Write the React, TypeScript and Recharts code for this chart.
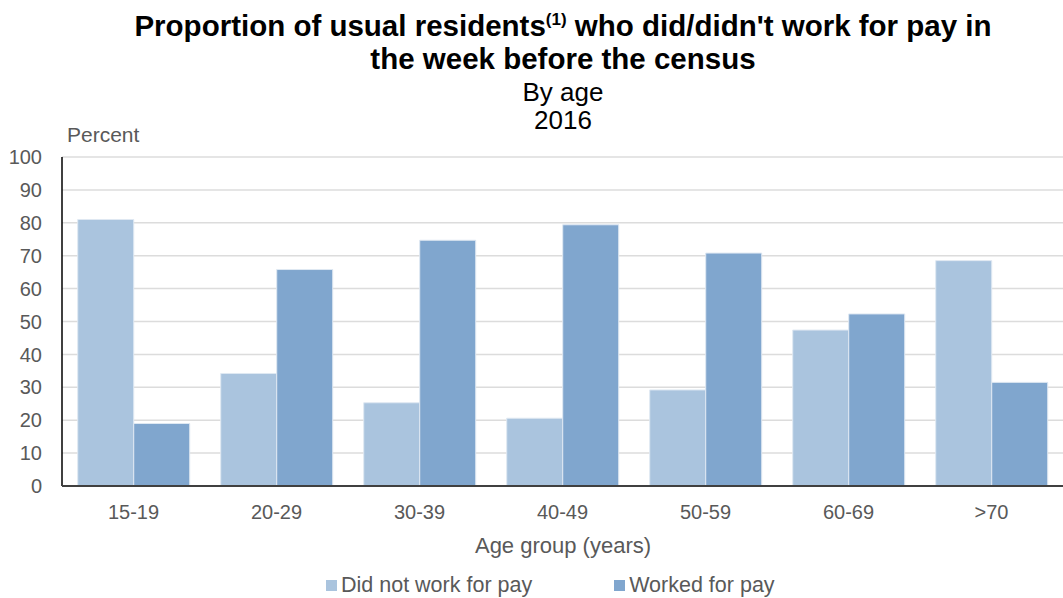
import React from "react";
import { BarChart, Bar, XAxis, YAxis, CartesianGrid } from "recharts";

const ageGroups = ["15-19", "20-29", "30-39", "40-49", "50-59", "60-69", ">70"];
const didNotWork = [81, 34.2, 25.3, 20.6, 29.2, 47.4, 68.5];
const worked = [19, 65.8, 74.7, 79.4, 70.8, 52.3, 31.5];
const yTicks = [0, 10, 20, 30, 40, 50, 60, 70, 80, 90, 100];

const LIGHT = "#aac4de";
const DARK = "#80a6ce";
const FONT = "'Liberation Sans', Arial, sans-serif";
const GREY = "#595959";

const data = ageGroups.map((g, i) => ({
  group: g,
  didNotWork: didNotWork[i],
  worked: worked[i],
}));

export default function App() {
  return (
    <div style={{ position: "relative", width: 1063, height: 598, background: "#fff", fontFamily: FONT, overflow: "hidden" }}>
      <style>{"body{margin:0}"}</style>
      <div style={{ position: "absolute", left: 63, width: 1000, top: 9, textAlign: "center", color: "#000", whiteSpace: "nowrap" }}>
        <div style={{ fontSize: 29.5, fontWeight: "bold", lineHeight: "33px" }}>
          Proportion of usual residents<sup style={{ fontSize: 17, lineHeight: 0 }}>(1)</sup> who did/didn't work for pay in
          <br />
          the week before the census
        </div>
        <div style={{ fontSize: 26, lineHeight: "28px", marginTop: 3 }}>By age</div>
        <div style={{ fontSize: 26, lineHeight: "28px" }}>2016</div>
      </div>
      <div style={{ position: "absolute", left: 67, top: 123, fontSize: 21, color: GREY }}>Percent</div>

      <BarChart
        width={1063}
        height={598}
        data={data}
        margin={{ top: 157, right: 0, bottom: 82, left: 0 }}
        barCategoryGap="11%"
        barGap={0}
      >
        <CartesianGrid vertical={false} stroke="#dcdcdc" strokeWidth={1.5} />
        <YAxis
          domain={[0, 100]}
          ticks={yTicks}
          interval={0}
          width={62}
          tickLine={false}
          axisLine={{ stroke: "#000", strokeWidth: 1.5 }}
          tick={{ fontSize: 20, fill: GREY, fontFamily: FONT }}
          tickMargin={14}
        />
        <XAxis
          dataKey="group"
          tickLine={false}
          axisLine={{ stroke: "#404040", strokeWidth: 2 }}
          tick={{ fontSize: 20, fill: GREY, fontFamily: FONT }}
          tickMargin={13}
        />
        <Bar dataKey="didNotWork" fill={LIGHT} stroke="#dfe8f2" strokeWidth={1} isAnimationActive={false} />
        <Bar dataKey="worked" fill={DARK} stroke="#dfe8f2" strokeWidth={1} isAnimationActive={false} />
      </BarChart>

      <div style={{ position: "absolute", left: 63, width: 1000, top: 533, textAlign: "center", fontSize: 22, color: GREY }}>
        Age group (years)
      </div>
      <div style={{ position: "absolute", left: 326, top: 573, fontSize: 21.5, color: GREY, display: "flex", alignItems: "center", whiteSpace: "nowrap" }}>
        <span style={{ width: 11, height: 11, background: LIGHT, display: "inline-block", marginRight: 4 }} />
        <span>Did not work for pay</span>
        <span style={{ width: 11, height: 11, background: DARK, display: "inline-block", marginLeft: 82, marginRight: 4 }} />
        <span>Worked for pay</span>
      </div>
    </div>
  );
}
